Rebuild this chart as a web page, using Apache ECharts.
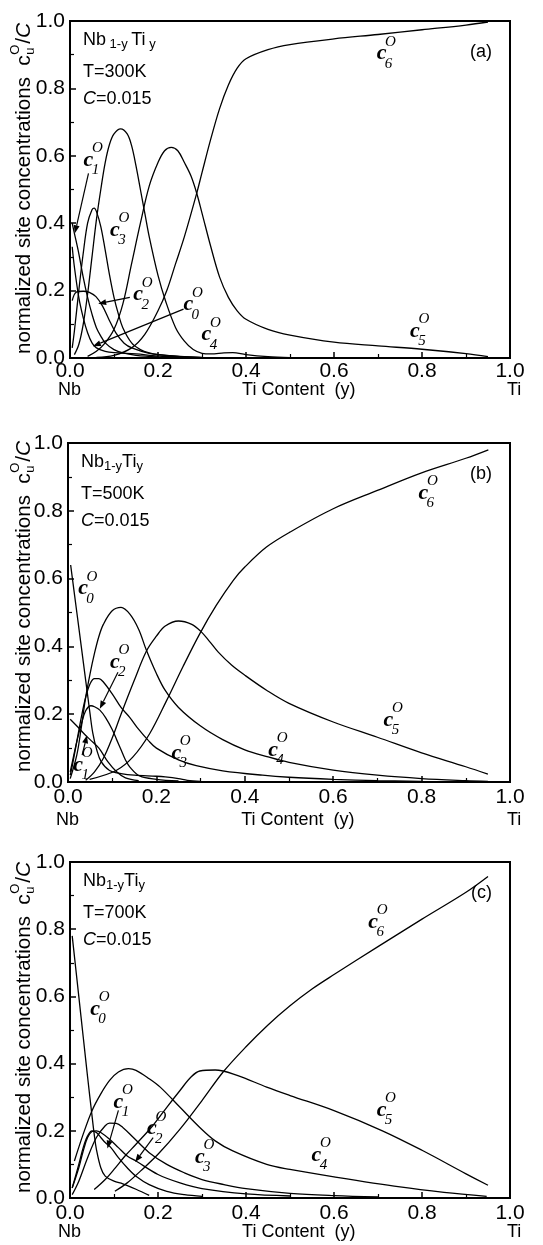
<!DOCTYPE html>
<html>
<head>
<meta charset="utf-8">
<script src="https://cdn.jsdelivr.net/npm/echarts@6/dist/echarts.min.js"></script>
<style>
  html, body { margin: 0; padding: 0; background: #fff; }
  #chart { width: 543px; height: 1245px; }
</style>
</head>
<body>
<div id="chart"></div>
<script>
// ---- axis ticks ----
const xTicks = [0.0, 0.2, 0.4, 0.6, 0.8, 1.0];
const yTicks = [0.0, 0.2, 0.4, 0.6, 0.8, 1.0];

// ---- panel (a): T = 300 K, [Ti content y, c_u/C] ----
const a_c0 = [[0.005,0.33],[0.01,0.27],[0.02,0.18],[0.03,0.12],[0.04,0.075],[0.05,0.045],[0.06,0.03],[0.08,0.02],[0.1,0.016],[0.15,0.012],[0.2,0.006],[0.3,0.001]];
const a_c1 = [[0.005,0.40],[0.01,0.37],[0.02,0.31],[0.03,0.24],[0.04,0.18],[0.05,0.13],[0.06,0.09],[0.07,0.065],[0.08,0.045],[0.1,0.025],[0.12,0.015],[0.15,0.008],[0.2,0.003]];
const a_c2 = [[0.005,0.17],[0.014,0.195],[0.03,0.198],[0.044,0.195],[0.059,0.182],[0.074,0.154],[0.089,0.113],[0.105,0.073],[0.123,0.044],[0.142,0.029],[0.18,0.014],[0.25,0.005],[0.3,0.002]];
const a_c3 = [[0.005,0.03],[0.01,0.08],[0.02,0.2],[0.03,0.31],[0.04,0.4],[0.05,0.44],[0.055,0.445],[0.06,0.435],[0.07,0.39],[0.08,0.32],[0.09,0.245],[0.1,0.18],[0.11,0.13],[0.12,0.09],[0.14,0.045],[0.16,0.025],[0.18,0.015],[0.2,0.01],[0.25,0.004],[0.3,0.001]];
const a_c4 = [[0.01,0.01],[0.02,0.04],[0.03,0.1],[0.04,0.19],[0.05,0.3],[0.06,0.41],[0.07,0.5],[0.08,0.58],[0.09,0.635],[0.1,0.665],[0.115,0.68],[0.13,0.665],[0.14,0.63],[0.15,0.57],[0.16,0.5],[0.17,0.43],[0.18,0.36],[0.2,0.245],[0.217,0.17],[0.24,0.09],[0.26,0.05],[0.28,0.025],[0.3,0.014],[0.32,0.012],[0.35,0.015],[0.37,0.016],[0.4,0.01],[0.45,0.004],[0.5,0.001]];
const a_c5 = [[0.04,0.005],[0.06,0.02],[0.08,0.045],[0.1,0.085],[0.12,0.16],[0.14,0.28],[0.16,0.4],[0.18,0.51],[0.2,0.58],[0.215,0.615],[0.23,0.625],[0.245,0.615],[0.26,0.58],[0.275,0.54],[0.288,0.489],[0.3,0.43],[0.32,0.33],[0.34,0.24],[0.36,0.18],[0.38,0.14],[0.4,0.115],[0.45,0.085],[0.5,0.068],[0.6,0.047],[0.7,0.036],[0.8,0.026],[0.9,0.013],[0.95,0.004]];
const a_c6 = [[0.06,0.002],[0.1,0.008],[0.14,0.03],[0.17,0.07],[0.2,0.14],[0.22,0.2],[0.24,0.28],[0.26,0.36],[0.288,0.489],[0.3,0.55],[0.32,0.65],[0.34,0.74],[0.36,0.81],[0.38,0.86],[0.4,0.888],[0.45,0.915],[0.5,0.93],[0.6,0.947],[0.7,0.96],[0.8,0.974],[0.9,0.988],[0.95,0.997]];

// ---- panel (b): T = 500 K ----
const b_c0 = [[0.006,0.64],[0.01,0.6],[0.02,0.5],[0.03,0.4],[0.04,0.3],[0.045,0.25],[0.05,0.2],[0.056,0.145],[0.065,0.095],[0.075,0.06],[0.094,0.034],[0.12,0.025],[0.15,0.02],[0.2,0.017],[0.22,0.015],[0.25,0.01],[0.27,0.005],[0.3,0.002]];
const b_c1 = [[0.005,0.185],[0.02,0.165],[0.038,0.14],[0.05,0.125],[0.07,0.1],[0.09,0.06],[0.11,0.03],[0.13,0.012],[0.16,0.004]];
const b_c2 = [[0.005,0.03],[0.01,0.06],[0.02,0.12],[0.03,0.17],[0.04,0.21],[0.052,0.225],[0.06,0.222],[0.072,0.212],[0.085,0.19],[0.1,0.155],[0.11,0.125],[0.12,0.095],[0.13,0.065],[0.14,0.044],[0.162,0.018],[0.2,0.008],[0.25,0.003]];
const b_c3 = [[0.005,0.02],[0.01,0.05],[0.02,0.12],[0.03,0.19],[0.04,0.25],[0.05,0.29],[0.06,0.305],[0.07,0.305],[0.08,0.295],[0.1,0.26],[0.12,0.22],[0.14,0.19],[0.16,0.155],[0.18,0.125],[0.2,0.1],[0.25,0.065],[0.29,0.048],[0.35,0.033],[0.44,0.02],[0.5,0.014],[0.6,0.008],[0.7,0.004],[0.8,0.002]];
const b_c4 = [[0.005,0.01],[0.02,0.08],[0.03,0.16],[0.04,0.25],[0.05,0.32],[0.06,0.38],[0.07,0.43],[0.08,0.465],[0.1,0.505],[0.12,0.515],[0.14,0.495],[0.16,0.45],[0.177,0.39],[0.2,0.32],[0.22,0.27],[0.25,0.22],[0.3,0.165],[0.35,0.125],[0.4,0.095],[0.45,0.075],[0.5,0.058],[0.6,0.035],[0.7,0.02],[0.8,0.01],[0.9,0.004],[0.95,0.002]];
const b_c5 = [[0.04,0.005],[0.06,0.03],[0.08,0.07],[0.1,0.13],[0.12,0.2],[0.15,0.3],[0.177,0.385],[0.2,0.43],[0.22,0.46],[0.25,0.475],[0.28,0.465],[0.3,0.445],[0.32,0.415],[0.34,0.383],[0.37,0.345],[0.4,0.315],[0.45,0.27],[0.5,0.232],[0.6,0.177],[0.7,0.132],[0.8,0.086],[0.9,0.045],[0.95,0.023]];
const b_c6 = [[0.049,0.008],[0.109,0.034],[0.147,0.074],[0.185,0.143],[0.223,0.24],[0.26,0.34],[0.298,0.437],[0.335,0.52],[0.374,0.595],[0.4,0.634],[0.449,0.693],[0.502,0.737],[0.6,0.806],[0.7,0.86],[0.8,0.912],[0.9,0.955],[0.951,0.98]];

// ---- panel (c): T = 700 K ----
const c_c0 = [[0.005,0.78],[0.01,0.72],[0.02,0.6],[0.03,0.48],[0.04,0.36],[0.05,0.245],[0.055,0.19],[0.06,0.145],[0.07,0.09],[0.08,0.065],[0.1,0.05],[0.12,0.042],[0.15,0.026],[0.18,0.008]];
const c_c1 = [[0.005,0.03],[0.02,0.1],[0.03,0.15],[0.04,0.185],[0.05,0.2],[0.06,0.195],[0.07,0.18],[0.08,0.165],[0.093,0.15],[0.11,0.12],[0.13,0.09],[0.15,0.065],[0.18,0.04],[0.22,0.02],[0.26,0.01],[0.3,0.005]];
const c_c2 = [[0.005,0.03],[0.02,0.09],[0.03,0.14],[0.04,0.18],[0.05,0.198],[0.06,0.2],[0.07,0.195],[0.09,0.175],[0.11,0.15],[0.13,0.125],[0.15,0.11],[0.2,0.07],[0.25,0.045],[0.3,0.028],[0.4,0.012],[0.5,0.006]];
const c_c3 = [[0.005,0.01],[0.02,0.05],[0.04,0.12],[0.06,0.18],[0.08,0.215],[0.09,0.223],[0.105,0.222],[0.12,0.21],[0.144,0.18],[0.18,0.135],[0.22,0.1],[0.26,0.075],[0.3,0.055],[0.35,0.04],[0.4,0.028],[0.5,0.014],[0.6,0.007],[0.7,0.003]];
const c_c4 = [[0.01,0.11],[0.03,0.19],[0.05,0.26],[0.07,0.31],[0.09,0.35],[0.11,0.375],[0.133,0.385],[0.15,0.38],[0.18,0.355],[0.205,0.33],[0.25,0.27],[0.295,0.21],[0.33,0.17],[0.37,0.14],[0.447,0.1],[0.5,0.085],[0.6,0.063],[0.75,0.033],[0.85,0.017],[0.947,0.005]];
const c_c5 = [[0.055,0.025],[0.08,0.055],[0.1,0.085],[0.125,0.125],[0.15,0.16],[0.188,0.215],[0.22,0.27],[0.25,0.32],[0.275,0.36],[0.295,0.378],[0.33,0.381],[0.38,0.365],[0.447,0.33],[0.5,0.305],[0.6,0.26],[0.71,0.2],[0.8,0.142],[0.9,0.072],[0.95,0.038]];
const c_c6 = [[0.102,0.02],[0.13,0.045],[0.16,0.08],[0.2,0.13],[0.25,0.205],[0.3,0.29],[0.348,0.375],[0.4,0.45],[0.45,0.515],[0.5,0.572],[0.55,0.622],[0.6,0.665],[0.7,0.748],[0.8,0.83],[0.9,0.91],[0.95,0.957]];

const panels = [
  { tag: '(a)', T: 'T=300K', series: [a_c0, a_c1, a_c2, a_c3, a_c4, a_c5, a_c6],
    grid: { left: 70, top: 21, width: 440, height: 337 },
    subStyle: 'spaced', tickMargin: 3, endRow: 32, nameBase: 354,
    labels: [ {u:'1', x:0.042, y:0.587}, {u:'3', x:0.102, y:0.38}, {u:'2', x:0.155, y:0.188}, {u:'0', x:0.269, y:0.158},
              {u:'4', x:0.31, y:0.069}, {u:'5', x:0.784, y:0.079}, {u:'6', x:0.708, y:0.903} ],
    arrows: [ [0.042,0.548, 0.011,0.37], [0.136,0.18, 0.064,0.161], [0.258,0.145, 0.052,0.035] ] },
  { tag: '(b)', T: 'T=500K', series: [b_c0, b_c1, b_c2, b_c3, b_c4, b_c5, b_c6],
    grid: { left: 68, top: 443, width: 442, height: 339 },
    tickMargin: 5, endRow: 38, nameBase: 772,
    labels: [ {u:'0', x:0.034, y:0.57}, {u:'2', x:0.106, y:0.354}, {u:'1', x:0.023, y:0.049},
              {u:'3', x:0.245, y:0.084}, {u:'4', x:0.464, y:0.093}, {u:'5', x:0.725, y:0.182}, {u:'6', x:0.804, y:0.851} ],
    arrows: [ [0.113,0.324, 0.072,0.216], [0.032,0.079, 0.043,0.138] ] },
  { tag: '(c)', T: 'T=700K', series: [c_c0, c_c1, c_c2, c_c3, c_c4, c_c5, c_c6],
    grid: { left: 70, top: 862, width: 440, height: 336 },
    tickMargin: 5, endRow: 34, nameBase: 1193,
    labels: [ {u:'0', x:0.057, y:0.563}, {u:'1', x:0.11, y:0.286}, {u:'2', x:0.186, y:0.206},
              {u:'3', x:0.295, y:0.122}, {u:'4', x:0.56, y:0.127}, {u:'5', x:0.708, y:0.261}, {u:'6', x:0.689, y:0.821} ],
    arrows: [ [0.11,0.261, 0.085,0.147], [0.189,0.18, 0.148,0.107] ] }
];

const chart = echarts.init(document.getElementById('chart'), null, { renderer: 'canvas' });
const FONT = '"Liberation Sans", Arial, sans-serif';
const SERIF = '"Liberation Serif", "Times New Roman", serif';

const grids = [], xAxes = [], yAxes = [], series = [];
panels.forEach((p, i) => {
  grids.push(Object.assign({ show: true, borderColor: '#000', borderWidth: 2, backgroundColor: 'transparent' }, p.grid));
  const common = {
    type: 'value', min: xTicks[0], max: xTicks[xTicks.length - 1], interval: 0.2, gridIndex: i,
    axisLine: { show: true, onZero: false, lineStyle: { color: '#000', width: 2 } },
    axisTick: { show: true, inside: true, length: 6, lineStyle: { color: '#000', width: 1.5 } },
    minorTick: { show: true, splitNumber: 2, length: 4, lineStyle: { color: '#000', width: 1.2 } },
    splitLine: { show: false },
    axisLabel: { color: '#000', fontSize: 21, fontFamily: FONT, formatter: v => v.toFixed(1) }
  };
  xAxes.push(Object.assign({}, common, { axisLabel: Object.assign({}, common.axisLabel, { margin: p.tickMargin }) }));
  yAxes.push(Object.assign({}, common, { min: yTicks[0], max: yTicks[yTicks.length - 1],
    axisLabel: Object.assign({}, common.axisLabel, { margin: 5 }) }));
  p.series.forEach((d, k) => {
    series.push({
      type: 'line', xAxisIndex: i, yAxisIndex: i, data: d, smooth: 0.35, symbol: 'none',
      lineStyle: { color: '#000', width: 1.3 }, silent: true, animation: false, name: p.tag + ' c' + k
    });
  });
});

chart.setOption({
  animation: false,
  grid: grids, xAxis: xAxes, yAxis: yAxes, series: series
});

// ---- annotations (text, curve labels, arrows) ----
const measureCtx = document.createElement('canvas').getContext('2d');
function textWidth(str, font) { measureCtx.font = font; return measureCtx.measureText(str).width; }

function curveLabel(cx, cy, u) {
  // italic c with stacked superscript O and subscript index
  return { type: 'group', x: cx, y: cy, children: [
    { type: 'text', x: 0, y: 0, style: { text: 'c', font: 'italic bold 22px ' + SERIF, fill: '#000', textAlign: 'center', textVerticalAlign: 'middle' } },
    { type: 'text', x: 9, y: -12, style: { text: 'O', font: 'italic 15px ' + SERIF, fill: '#000', textAlign: 'center', textVerticalAlign: 'middle' } },
    { type: 'text', x: 7, y: 10, style: { text: u, font: 'italic 15px ' + SERIF, fill: '#000', textAlign: 'center', textVerticalAlign: 'middle' } }
  ]};
}
function arrow(x1, y1, x2, y2) {
  const ang = Math.atan2(y2 - y1, x2 - x1);
  const L = 8, W = 3;
  const bx = x2 - L * Math.cos(ang), by = y2 - L * Math.sin(ang);
  const nx = -Math.sin(ang) * W, ny = Math.cos(ang) * W;
  return [
    { type: 'line', shape: { x1: x1, y1: y1, x2: bx, y2: by }, style: { stroke: '#000', lineWidth: 1.2 } },
    { type: 'polygon', shape: { points: [[x2, y2], [bx + nx, by + ny], [bx - nx, by - ny]] }, style: { fill: '#000' } }
  ];
}

const NAME_FONT = '20.5px ' + FONT;
const nameText = 'normalized site concentrations  ';
const nameW = textWidth(nameText, NAME_FONT);

const g = [];
panels.forEach((p, i) => {
  const L = p.grid.left, T = p.grid.top, H = p.grid.height, W = p.grid.width;
  const toPx = (x, y) => chart.convertToPixel({ gridIndex: i }, [x, y]);
  // composition / conditions box
  g.push({ type: 'text', x: L + 13, y: T + 19, style: { rich: {
      n: { fontSize: 18, fontFamily: FONT, fill: '#000' },
      s: { fontSize: 13, fontFamily: FONT, fill: '#000', padding: [8, 0, 0, 0] } },
      text: p.subStyle === 'spaced' ? '{n|Nb}{s| 1-y }{n|Ti}{s| y}' : '{n|Nb}{s|1-y}{n|Ti}{s|y}',
      textVerticalAlign: 'middle', font: '18px ' + FONT, fill: '#000' } });
  g.push({ type: 'text', x: L + 13, y: T + 51, style: { text: p.T, font: '18px ' + FONT, fill: '#000', textVerticalAlign: 'middle' } });
  g.push({ type: 'text', x: L + 13, y: T + 78, style: { rich: {
      i: { fontSize: 18, fontFamily: FONT, fontStyle: 'italic', fill: '#000' },
      n: { fontSize: 18, fontFamily: FONT, fill: '#000' } },
      text: '{i|C}{n|=0.015}', textVerticalAlign: 'middle' } });
  g.push({ type: 'text', x: L + W - 18, y: T + 31, style: { text: p.tag, font: '18px ' + FONT, fill: '#000', textAlign: 'right', textVerticalAlign: 'middle' } });
  // axis end labels and axis title
  g.push({ type: 'text', x: L - 12, y: T + H + p.endRow, style: { text: 'Nb', font: '18px ' + FONT, fill: '#000', textVerticalAlign: 'middle' } });
  g.push({ type: 'text', x: L + W - 3, y: T + H + p.endRow, style: { text: 'Ti', font: '18px ' + FONT, fill: '#000', textVerticalAlign: 'middle' } });
  g.push({ type: 'text', x: L + W * 0.52, y: T + H + p.endRow, style: { text: 'Ti Content  (y)', font: '18px ' + FONT, fill: '#000', textAlign: 'center', textVerticalAlign: 'middle' } });
  // rotated y-axis title: normalized site concentrations  c_u^O / C
  g.push({ type: 'group', x: 24, y: p.nameBase, rotation: Math.PI / 2, children: [
    { type: 'text', x: 0, y: 0, style: { text: nameText, font: NAME_FONT, fill: '#000', textVerticalAlign: 'middle' } },
    { type: 'text', x: nameW, y: 0, style: { text: 'c', font: '21px ' + FONT, fill: '#000', textVerticalAlign: 'middle' } },
    { type: 'text', x: nameW + 11, y: -9, style: { text: 'O', font: '13px ' + FONT, fill: '#000', textVerticalAlign: 'middle' } },
    { type: 'text', x: nameW + 11, y: 6, style: { text: 'u', font: '13px ' + FONT, fill: '#000', textVerticalAlign: 'middle' } },
    { type: 'text', x: nameW + 22, y: 0, style: { rich: {
        n: { fontSize: 21, fontFamily: FONT, fill: '#000' },
        i: { fontSize: 21, fontFamily: FONT, fontStyle: 'italic', fill: '#000' } },
      text: '{n|/}{i|C}', textVerticalAlign: 'middle' } }
  ]});
  // curve labels
  p.labels.forEach(lb => {
    const q = toPx(lb.x, lb.y);
    g.push(curveLabel(q[0], q[1], lb.u));
  });
  p.arrows.forEach(a => {
    const s = toPx(a[0], a[1]), e = toPx(a[2], a[3]);
    arrow(s[0], s[1], e[0], e[1]).forEach(el => g.push(el));
  });
});
chart.setOption({ graphic: g });
</script>
</body>
</html>
